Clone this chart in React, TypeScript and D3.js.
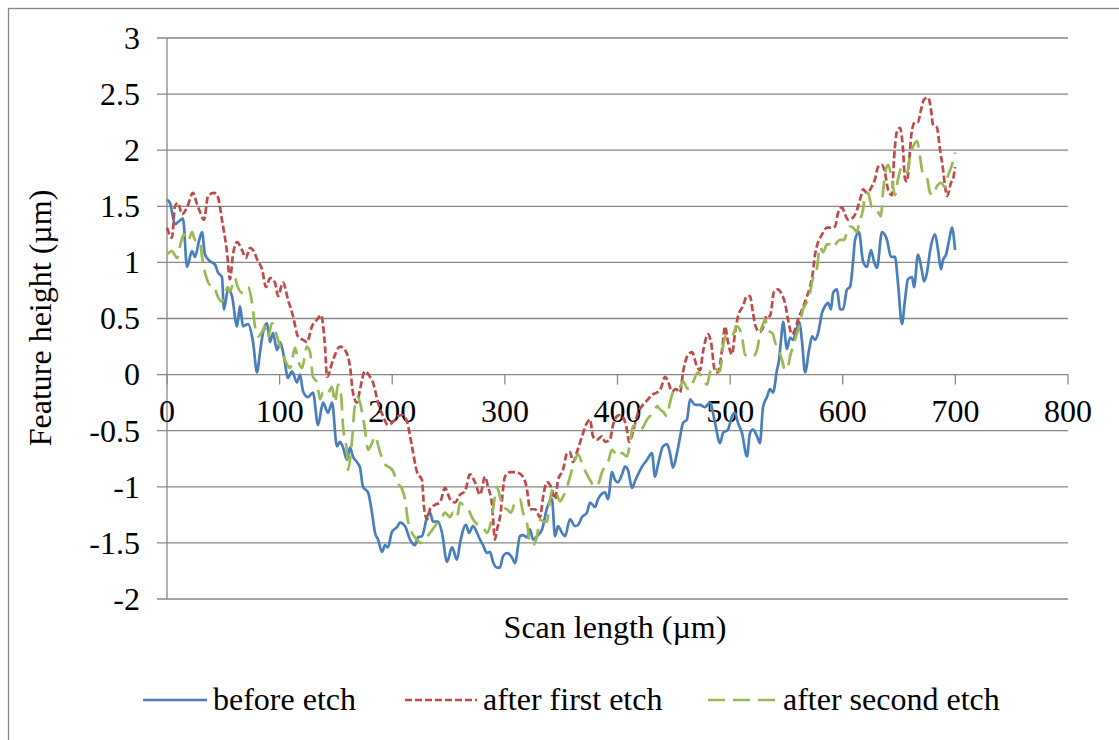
import * as d3 from 'd3'

// scan position (µm), feature height (µm)
const beforeEtch: [number, number][] = [
  [0,1.56],[2.7,1.53],[7.1,1.34],[9.8,1.36],[14.2,1.39],[17.8,0.96],[22.2,1.10],[24.9,1.05],[28.4,1.19],[31.1,1.27],
  [33.7,1.07],[38.2,1.01],[42.6,0.98],[45.3,0.91],[48.8,0.87],[50.6,0.58],[54.2,0.76],[57.7,0.70],[62.2,0.43],[64.8,0.61],
  [67.5,0.43],[71.9,0.45],[76.4,0.29],[79.9,0.02],[82.6,0.20],[85.2,0.37],[88.8,0.46],[91.5,0.29],[94.1,0.37],[97.7,0.22],
  [100.3,0.29],[103.9,0.16],[107.4,-0.03],[111,0.03],[115.4,-0.07],[118.1,0],[120.8,-0.15],[125.2,-0.20],[129.6,-0.16],[134.1,-0.45],
  [138.5,-0.25],[143,-0.34],[146.5,-0.25],[150.9,-0.64],[153.6,-0.60],[156.3,-0.65],[159.8,-0.76],[162.5,-0.65],[165.1,-0.73],[168.7,-0.78],
  [171.4,-0.83],[174,-1.00],[178.5,-1.05],[182,-1.23],[184.7,-1.41],[187.4,-1.47],[190.9,-1.58],[193.6,-1.52],[196.2,-1.54],[199.8,-1.40],
  [204.2,-1.36],[206.9,-1.32],[211.3,-1.35],[215.8,-1.47],[220.2,-1.52],[222.9,-1.45],[226.4,-1.44],[230.9,-1.27],[233.5,-1.23],[236.2,-1.31],
  [240.6,-1.31],[244.2,-1.41],[248.6,-1.67],[253.1,-1.54],[257.5,-1.65],[260.2,-1.50],[265.5,-1.34],[268.1,-1.41],[271.7,-1.35],[275.3,-1.41],
  [277.9,-1.47],[280.6,-1.52],[284.1,-1.59],[286.8,-1.58],[289.5,-1.67],[293,-1.72],[295.7,-1.72],[298.3,-1.62],[301.9,-1.59],[306.3,-1.63],
  [309,-1.68],[313.4,-1.44],[316.1,-1.43],[319.6,-1.45],[322.3,-1.38],[325,-1.47],[328.5,-1.44],[333,-1.38],[337.4,-1.19],[341.8,-1.11],
  [344.5,-1.44],[347.2,-1.35],[350.7,-1.41],[353.4,-1.44],[357.8,-1.29],[362.3,-1.35],[364.9,-1.34],[368.5,-1.27],[372.9,-1.23],[375.6,-1.14],
  [380,-1.18],[382.7,-1.11],[388.9,-1.05],[391.6,-1.11],[395.1,-0.87],[397.8,-0.94],[400.4,-0.96],[404,-0.89],[406.7,-0.82],[409.3,-0.85],
  [412.9,-1.01],[415.5,-0.95],[418.2,-0.89],[421.8,-0.82],[426.2,-0.76],[430.6,-0.70],[433.3,-0.91],[436,-0.80],[440.4,-0.64],[444,-0.62],
  [446.6,-0.70],[449.3,-0.83],[452.8,-0.70],[455.5,-0.56],[458.2,-0.43],[461.7,-0.40],[464.4,-0.22],[468.8,-0.27],[473.3,-0.27],[477.7,-0.29],
  [482.1,-0.25],[486.6,-0.43],[491,-0.61],[493.7,-0.52],[498.1,-0.49],[501.7,-0.37],[504.3,-0.34],[507,-0.43],[510.5,-0.52],[515,-0.73],
  [517.6,-0.52],[520.3,-0.49],[523.9,-0.55],[526.5,-0.61],[529.2,-0.29],[532.7,-0.20],[535.4,-0.13],[538.1,-0.16],[541.6,0.04],[543.4,0.13],
  [545.2,0.31],[547,0.47],[550.5,0.23],[553.2,0.33],[555.8,0.31],[559.4,0.42],[561.2,0.47],[563.9,0.29],[566.5,0.02],[570.1,0.22],
  [572.8,0.34],[575.4,0.31],[578.1,0.37],[581.6,0.55],[584.3,0.61],[587,0.64],[589.6,0.58],[591.4,0.73],[594.9,0.76],[597.6,0.58],
  [600.3,0.58],[603.8,0.76],[606.4,0.78],[609.1,1.00],[610.9,1.20],[614.4,1.27],[618,1.01],[621.5,0.96],[625.1,1.11],[627.7,1.01],
  [630.4,0.95],[634.8,1.27],[639.3,1.20],[642.8,1.05],[646.4,1.05],[649,0.82],[652.6,0.45],[655.3,0.67],[657.9,0.85],[661.5,0.87],
  [663.3,0.78],[666.8,1.07],[670.4,0.92],[672.1,0.83],[674.8,0.91],[677.5,1.10],[681.9,1.25],[684.6,1.11],[687.2,0.94],[689,1.02],
  [691.7,1.07],[694.3,1.19],[697,1.31],[699.7,1.11],
]

const afterFirstEtch: [number, number][] = [
  [0,1.31],[4.4,1.22],[7.1,1.50],[9.8,1.53],[13.3,1.43],[17.8,1.49],[23.1,1.62],[26.6,1.52],[29.3,1.45],[32.9,1.38],
  [36.4,1.59],[41.7,1.62],[45.3,1.58],[48.8,1.38],[53.3,1.09],[55.9,0.85],[58.6,1.07],[62.2,1.18],[66.6,1.11],[70.1,1.04],
  [73.7,1.13],[76.4,1.11],[80.8,1.01],[84.4,0.94],[87.9,0.78],[91.5,0.86],[95.9,0.82],[98.6,0.70],[103,0.82],[107.4,0.67],
  [111.9,0.52],[116.3,0.34],[120.8,0.31],[124.3,0.29],[128.7,0.43],[133.2,0.49],[136.7,0.53],[140.3,0.25],[142.1,-0.02],[147.4,0.13],
  [153.6,0.25],[158,0.22],[162.5,0.07],[165.1,-0.16],[168.7,-0.25],[171.4,-0.13],[175.8,0.03],[180.2,-0.02],[182.9,-0.07],[187.4,-0.25],
  [191.8,-0.37],[196.2,-0.45],[200.7,-0.42],[205.1,-0.37],[209.5,-0.36],[213.1,-0.42],[217.5,-0.64],[222,-0.87],[226.4,-0.94],[228.2,-1.18],
  [230.9,-1.29],[233.5,-1.20],[238,-1.16],[242.4,-1.14],[246.8,-1.01],[251.3,-1.11],[255.7,-1.14],[260.2,-1.07],[264.6,-1.04],[269,-0.89],
  [273.5,-0.96],[277.9,-1.07],[282.4,-0.91],[285,-1.00],[288.6,-1.16],[291.2,-1.47],[293,-1.38],[295.7,-1.27],[300.1,-0.91],[304.6,-0.87],
  [309.9,-0.87],[316.1,-0.91],[319.6,-1.02],[322.3,-1.20],[326.8,-1.20],[331.2,-1.27],[333.9,-1.09],[337.4,-0.96],[341,-1.00],[344.5,-1.11],
  [347.2,-0.94],[351.6,-0.85],[355.2,-0.70],[357.8,-0.69],[360.5,-0.78],[364,-0.69],[368.5,-0.55],[372.9,-0.43],[375.6,-0.40],[378.2,-0.55],
  [381.8,-0.58],[386.2,-0.55],[388.9,-0.60],[393.3,-0.58],[396,-0.45],[399.6,-0.37],[402.2,-0.36],[404.9,-0.38],[408.4,-0.49],[410.2,-0.60],
  [413.8,-0.51],[418.2,-0.34],[422.6,-0.27],[427.1,-0.22],[430.6,-0.18],[435.1,-0.16],[438.6,-0.12],[442.2,-0.02],[444.8,-0.06],[448.4,-0.15],
  [451.9,-0.13],[455.5,-0.16],[458.2,0.02],[461.7,0.16],[466.2,0.20],[470.6,0.07],[473.3,0.04],[475.9,0.20],[480.4,0.36],[483,0.29],
  [486.6,0.03],[489.2,0.02],[492.8,0.22],[495.5,0.43],[498.1,0.29],[501.7,0.18],[504.3,0.37],[507,0.52],[511.4,0.61],[515,0.70],
  [517.6,0.70],[520.3,0.55],[523,0.42],[526.5,0.38],[529.2,0.42],[532.7,0.53],[535.4,0.52],[539,0.74],[542.5,0.76],[546.1,0.71],
  [548.7,0.64],[551.4,0.49],[555,0.36],[557.6,0.40],[560.3,0.49],[564.7,0.60],[568.3,0.70],[570.9,0.78],[573.6,0.92],[575.4,1.07],
  [581.6,1.25],[586.1,1.31],[590.5,1.31],[593.2,1.32],[595.8,1.44],[599.4,1.49],[602,1.43],[604.7,1.38],[609.1,1.40],[612.7,1.47],
  [616.2,1.59],[618,1.65],[621.5,1.62],[626,1.68],[628.6,1.74],[631.3,1.85],[634.8,1.87],[637.5,1.80],[640.2,1.65],[643.7,1.60],
  [645.5,1.92],[648.2,2.17],[650.8,2.20],[653.5,2.01],[655.3,1.74],[657.1,1.72],[658.8,1.89],[661.5,2.18],[664.2,2.25],[666.8,2.25],
  [669.5,2.36],[672.1,2.45],[675.7,2.47],[678.4,2.36],[680.1,2.23],[683.7,2.20],[686.3,2.01],[689,1.83],[690.8,1.68],[692.6,1.59],
  [696.1,1.71],[697.9,1.74],[699.7,1.85],
]

const afterSecondEtch: [number, number][] = [
  [0,1.07],[4.4,1.10],[8.9,1.04],[12.4,1.18],[15.1,1.25],[18.6,1.19],[22.2,1.27],[24.9,1.20],[29.3,1.19],[31.1,1.05],
  [35.5,0.85],[38.2,0.80],[40.8,0.80],[45.3,0.69],[48.8,0.65],[54.2,0.78],[55.9,0.74],[60.4,0.86],[62.2,0.80],[66.6,0.73],
  [69.3,0.74],[71.9,0.78],[75.5,0.64],[78.1,0.43],[80.8,0.34],[84.4,0.38],[87,0.43],[89.7,0.33],[93.2,0.46],[95.9,0.40],
  [98.6,0.31],[102.1,0.20],[105.7,0.11],[109.2,0.06],[113.7,0.24],[116.3,0.13],[119.9,0.06],[124.3,0.25],[127,0.20],[129.6,-0.02],
  [133.2,-0.07],[135.8,-0.22],[138.5,-0.16],[142.1,-0.18],[146.5,-0.11],[149.2,-0.25],[151.8,-0.09],[154.5,-0.18],[156.3,-0.46],[159.8,-0.70],
  [160.7,-0.85],[164.3,-0.58],[166.9,-0.27],[169.6,-0.20],[173.1,-0.33],[175.8,-0.49],[178.5,-0.67],[182,-0.61],[184.7,-0.55],[189.1,-0.69],
  [193.6,-0.80],[198,-0.83],[200.7,-0.86],[204.2,-0.96],[208.7,-1.02],[211.3,-1.11],[214,-1.31],[217.5,-1.41],[222,-1.47],[224.6,-1.50],
  [229.1,-1.47],[233.5,-1.41],[238,-1.35],[240.6,-1.31],[244.2,-1.27],[246.8,-1.23],[251.3,-1.27],[253.9,-1.23],[257.5,-1.27],[260.2,-1.14],
  [264.6,-1.18],[267.3,-1.20],[271.7,-1.29],[276.1,-1.34],[280.6,-1.36],[284.1,-1.41],[286.8,-1.35],[289.5,-1.20],[293,-1.00],[295.7,-1.09],
  [298.3,-1.18],[301.9,-1.20],[305.4,-1.23],[309,-1.14],[313.4,-1.11],[316.1,-1.23],[319.6,-1.32],[322.3,-1.50],[325,-1.52],[328.5,-1.44],
  [331.2,-1.29],[333.9,-1.31],[337.4,-1.31],[340.1,-1.11],[342.7,-1.02],[346.3,-1.07],[348.9,-1.13],[351.6,-1.09],[355.2,-1.00],[359.6,-0.85],
  [362.3,-0.76],[364.9,-0.71],[369.4,-0.82],[372.9,-0.89],[375.6,-0.94],[380,-1.00],[382.7,-0.98],[386.2,-0.87],[388.9,-0.82],[391.6,-0.78],
  [395.1,-0.67],[397.8,-0.70],[400.4,-0.73],[404,-0.70],[408.4,-0.73],[411.1,-0.61],[413.8,-0.46],[417.3,-0.45],[420,-0.49],[422.6,-0.47],
  [426.2,-0.40],[428.9,-0.37],[433.3,-0.31],[435.1,-0.28],[437.7,-0.31],[440.4,-0.33],[444,-0.37],[446.6,-0.25],[449.3,-0.16],[452.8,-0.13],
  [455.5,-0.11],[458.2,-0.06],[461.7,-0.12],[464.4,-0.13],[467,-0.07],[471.5,0.02],[475.9,-0.04],[479.5,-0.09],[482.1,0.02],[484.8,0.07],
  [488.4,0.04],[491,0.03],[493.7,0.25],[497.2,0.36],[499.9,0.34],[502.6,0.36],[506.1,0.43],[510.5,0.34],[513.2,0.18],[517.6,0.16],
  [520.3,0.16],[523.9,0.22],[526.5,0.37],[529.2,0.45],[531,0.49],[533.6,0.40],[538.1,0.36],[539.8,0.29],[542.5,0.24],[546.1,0.13],
  [548.7,0.04],[551.4,0.07],[553.2,0.16],[555.8,0.25],[559.4,0.37],[562,0.46],[564.7,0.58],[568.3,0.65],[570.9,0.73],[573.6,0.86],
  [577.1,0.95],[579.8,1.14],[582.5,1.09],[586.1,1.16],[588.7,1.16],[591.4,1.13],[594.9,1.18],[597.6,1.20],[601.1,1.20],[603.8,1.27],
  [606.4,1.32],[609.1,1.31],[612.7,1.27],[614.4,1.35],[618,1.47],[619.8,1.59],[622.4,1.62],[626,1.49],[628.6,1.49],[631.3,1.45],
  [633.9,1.41],[635.7,1.62],[638.4,1.83],[640.2,1.87],[643.7,1.74],[646.4,1.60],[649,1.74],[652.6,1.85],[655.3,1.83],[657.1,1.80],
  [659.7,1.94],[662.4,2.03],[665.9,2.08],[668.6,1.94],[671.3,1.78],[674.8,1.75],[677.5,1.62],[680.1,1.60],[683.7,1.68],[687.2,1.71],
  [690.8,1.67],[693.4,1.77],[697,1.87],[699.7,1.98],
]

const seriesNames = ['before etch', 'after first etch', 'after second etch']
const xTicks = [0, 100, 200, 300, 400, 500, 600, 700, 800]
const yTicks = [3, 2.5, 2, 1.5, 1, 0.5, 0, -0.5, -1, -1.5, -2]
const yTickLabels = ['3', '2.5', '2', '1.5', '1', '0.5', '0', '-0.5', '-1', '-1.5', '-2']

const W = 1119
const H = 740
const FONT = '"Liberation Serif", "Times New Roman", serif'
const GRID = '#878787'
const FS = 32

const styles = [
  { color: '#4a7ebb', dash: undefined },
  { color: '#be4b48', dash: '7,3' },
  { color: '#98b954', dash: '17,8' },
]

export default function App() {
  const x = d3.scaleLinear().domain([0, 800]).range([167, 1068])
  const y = d3.scaleLinear().domain([-2, 3]).range([599, 38])
  const line = d3.line<[number, number]>()
    .x(d => x(d[0]))
    .y(d => y(d[1]))
    .curve(d3.curveMonotoneX)

  const all = [beforeEtch, afterFirstEtch, afterSecondEtch]
  const legendX = [143, 405, 708]
  const legendLen = [64, 72, 69]

  return (
    <svg width={W} height={H} style={{ position: 'absolute', left: 0, top: 0, background: '#fff' }}
      fontFamily={FONT}>
      <rect x={8.5} y={8.5} width={1130} height={760} fill="#fff" stroke={GRID} strokeWidth={1.3} />

      {yTicks.map((t, i) => (
        <g key={'y' + i}>
          <line x1={157} x2={x(800)} y1={y(t)} y2={y(t)} stroke={GRID} strokeWidth={1.3} />
          <text x={140} y={y(t)} dy="0.34em" textAnchor="end" fontSize={FS} fill="#000">{yTickLabels[i]}</text>
        </g>
      ))}
      <line x1={x(0)} x2={x(0)} y1={y(3)} y2={y(-2)} stroke={GRID} strokeWidth={1.3} />

      {xTicks.map(t => (
        <g key={'x' + t}>
          <line x1={x(t)} x2={x(t)} y1={y(0)} y2={y(0) + 10} stroke={GRID} strokeWidth={1.3} />
          <text x={x(t)} y={422} textAnchor="middle" fontSize={FS} fill="#000">{t}</text>
        </g>
      ))}

      {all.map((s, i) => (
        <path key={'s' + i} d={line(s) ?? ''} fill="none" stroke={styles[i].color}
          strokeWidth={2.7} strokeDasharray={styles[i].dash} strokeLinejoin="round" />
      ))}

      <text x={615} y={638} textAnchor="middle" fontSize={FS} fill="#000">Scan length (µm)</text>
      <text transform="translate(51,318) rotate(-90)" textAnchor="middle" fontSize={FS} fill="#000">Feature height (µm)</text>

      {seriesNames.map((n, i) => (
        <g key={'l' + i}>
          <line x1={legendX[i]} x2={legendX[i] + legendLen[i]} y1={700} y2={700}
            stroke={styles[i].color} strokeWidth={2.7} strokeDasharray={styles[i].dash} />
          <text x={legendX[i] + legendLen[i] + 6} y={710} fontSize={FS} fill="#000">{n}</text>
        </g>
      ))}
    </svg>
  )
}
